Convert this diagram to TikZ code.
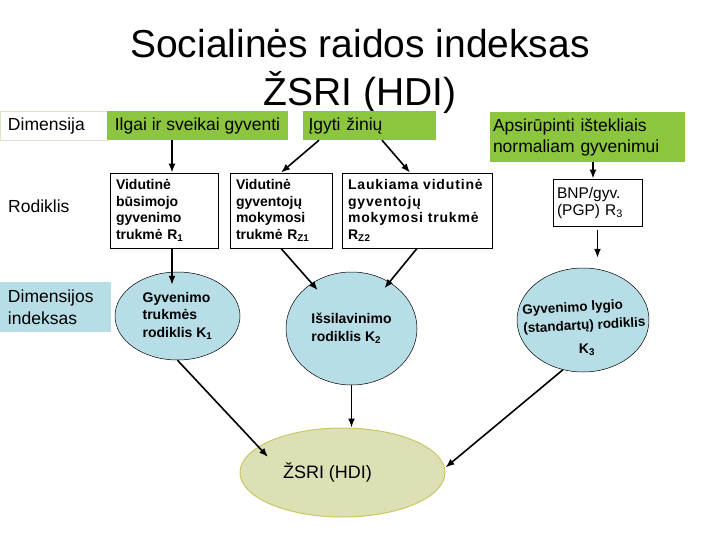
\documentclass[tikz,border=0pt]{standalone}
\usepackage{fontspec}
\setmainfont{Liberation Sans}
\usetikzlibrary{shapes.geometric,arrows.meta}
\definecolor{grn}{RGB}{140,198,63}
\definecolor{lblue}{RGB}{183,221,230}
\definecolor{beige}{RGB}{221,223,180}
\definecolor{beigeline}{RGB}{200,200,100}
\definecolor{paleline}{RGB}{215,232,195}
\begin{document}
\begin{tikzpicture}[x=1pt,y=-1pt,
  title/.style={font=\fontsize{39}{48}\selectfont, inner sep=0pt, anchor=base},
  lab/.style={font=\fontsize{17.5}{21}\selectfont, inner sep=0pt},
  dimbox/.style={lab, draw=paleline, fill=white, minimum width=107pt, minimum height=29pt, inner xsep=8pt, inner ysep=0pt, text width=91pt, align=left},
  gbox/.style={lab, fill=grn, inner ysep=0pt, align=left},
  rbox/.style={draw=black, line width=0.8pt, fill=white, inner xsep=6pt, inner ysep=0pt, align=left, font=\fontsize{14}{16.5}\selectfont\bfseries},
  bell/.style={ellipse, draw=black, line width=0.5pt, fill=lblue, inner sep=0pt, align=left, font=\fontsize{14}{17.5}\selectfont\bfseries},
  arr/.style={-{Latex[length=9pt,width=7pt]}, line width=1.6pt},
]
\useasboundingbox (0,0) rectangle (720,540);

% title
\node[title] (t1) at (360,58) {Socialinės raidos indeksas};
\node[title] (t2) at (360,106) {ŽSRI (HDI)};

% row 1: dimensions
\node[dimbox] (d1) at (53.5,125.5) {Dimensija};
\node[gbox, minimum width=181pt, minimum height=29pt, align=center] (g1) at (197.5,125.5) {Ilgai ir sveikai gyventi};
\node[gbox, minimum width=133pt, minimum height=29pt, inner xsep=6pt, text width=121pt] (g2) at (369,125.5) {Įgyti žinių};
\node[gbox, minimum width=195pt, minimum height=50pt, inner xsep=3pt, text width=189pt] (g3) at (587.5,137) {Apsirūpinti ištekliais\\normaliam gyvenimui};

% row 2: indicators
\node[lab, anchor=base west] (rod) at (8,212) {Rodiklis};
\node[rbox, minimum width=108pt, minimum height=75pt, text width=96pt] (b1) at (164,210.5)
  {Vidutinė\\būsimojo\\gyvenimo\\trukmė R\textsubscript{1}};
\node[rbox, minimum width=102pt, minimum height=75pt, text width=90pt] (b2) at (281,210.5)
  {Vidutinė\\gyventojų\\mokymosi\\trukmė R\textsubscript{Z1}};
\node[rbox, minimum width=150pt, minimum height=75pt, text width=138pt, font=\fontsize{14}{16.5}\selectfont\bfseries\addfontfeatures{LetterSpace=6}] (b3) at (417,210.5)
  {Laukiama vidutinė\\gyventojų\\mokymosi trukmė\\R\textsubscript{Z2}};
\node[rbox, font=\fontsize{15.5}{17}\selectfont, minimum width=89pt, minimum height=47pt, inner xsep=4pt, text width=81pt] (b4) at (597.5,202.5)
  {BNP/gyv.\\(PGP) R\textsubscript{3}};

% row 3: dimension indices
\node[lab, fill=lblue, minimum width=111pt, minimum height=50pt, inner xsep=8pt, text width=95pt, align=left, font=\fontsize{17.5}{22}\selectfont] (d3) at (55.5,307) {Dimensijos\\indeksas};
\node[bell, minimum width=125pt, minimum height=88pt] (e1) at (177.5,316) {Gyvenimo\\trukmės\\rodiklis K\textsubscript{1}};
\node[bell, minimum width=131pt, minimum height=113pt] (e2) at (351.5,328.5) {Išsilavinimo\\rodiklis K\textsubscript{2}};
\node[bell, minimum width=132pt, minimum height=104pt] (e3) at (583,320) {};
\node[inner sep=0pt, align=left, rotate=3, font=\fontsize{13.5}{18.5}\selectfont\bfseries] (e3t) at (584,317) {Gyvenimo lygio\\(standartų) rodiklis};
\node[inner sep=0pt, anchor=base, font=\fontsize{14}{17}\selectfont\bfseries] (e3k) at (587,353) {K\textsubscript{3}};

% final
\node[ellipse, draw=beigeline, line width=1pt, fill=beige, minimum width=205pt, minimum height=89pt, inner sep=0pt] (fin) at (342.5,472.5) {};
\node[inner sep=0pt, anchor=base, font=\fontsize{18}{20}\selectfont] (fint) at (327.5,478) {ŽSRI (HDI)};

% connectors
\draw[arr] ([xshift=-25.5pt]g1.south) -- ([xshift=8pt]b1.north);
\draw[arr] ([xshift=-50pt]g2.south) -- (b2.north);
\draw[arr] ([xshift=13pt]g2.south) -- ([xshift=-7pt]b3.north);
\draw[arr] ([xshift=5.5pt]g3.south) -- ([xshift=-4.5pt]b4.north);

\draw[arr, shorten >=-13pt] ([xshift=8pt]b1.south) -- ([xshift=8pt]b1.south |- e1.north);
\draw[arr, shorten >=51pt] (b2.south) -- (e2.center);
\draw[arr, shorten >=52pt] (b3.south) -- (e2.center);
\draw[arr, shorten >=10pt, shorten <=4pt] (b4.south) -- (b4.south |- e3.north);

\draw[arr] (e1.south) -- ([xshift=-74.5pt, yshift=15.5pt]fin.center);
\draw[arr] (e2.south) -- (e2.south |- fin.north);
\draw[arr] (e3.248) -- ([yshift=5pt]fin.east);
\end{tikzpicture}
\end{document}
